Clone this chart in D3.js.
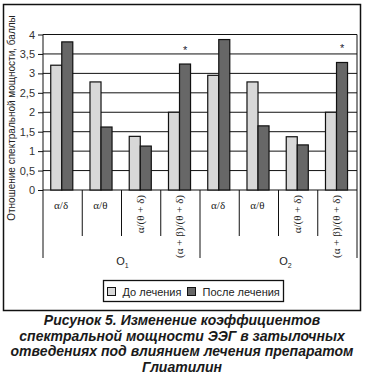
<!DOCTYPE html>
<html><head><meta charset="utf-8">
<script src="https://cdn.jsdelivr.net/npm/d3@7"></script>
<style>
html,body{margin:0;padding:0;background:#fff;}
svg{display:block;}
</style></head>
<body>
<script>
// ---- data ----
const groups = ["O1", "O2"];
const categories = ["α/δ", "α/θ", "α/(θ + δ)", "(α + β)/(θ + δ)"];
const rotated = [false, false, true, true];
const series = ["До лечения", "После лечения"];
const beforeValues = [3.21, 2.78, 1.38, 2.0, 2.95, 2.78, 1.37, 2.0];
const afterValues  = [3.81, 1.62, 1.13, 3.24, 3.87, 1.65, 1.16, 3.28];
const significant  = [false, false, false, true, false, false, false, true];
const yTicks = [0, 0.5, 1, 1.5, 2, 2.5, 3, 3.5, 4];
const yTitle = "Отношение спектральной мощности, баллы";
const caption = ["Рисунок 5. Изменение коэффициентов",
                 "спектральной мощности ЭЭГ в затылочных",
                 "отведениях под влиянием лечения препаратом",
                 "Глиатилин"];
const colors = ["#d8d8d8", "#676767"];

const W = 365, H = 379;
const svg = d3.select("body").append("svg").attr("width", W).attr("height", H);
const sans = "'Liberation Sans', Arial, sans-serif";
const serif = "'Liberation Serif', 'Times New Roman', serif";

// outer frame
svg.append("rect").attr("x", 3.5).attr("y", 4.5).attr("width", 357).attr("height", 306)
  .attr("fill", "none").attr("stroke", "#111").attr("stroke-width", 1.5);

const left = 43, right = 357, yTop = 34.5, yBot = 190;
const rows = [];
groups.forEach((g, gi) => categories.forEach((c, ci) => rows.push({g, gi, c, ci, i: gi * categories.length + ci})));

const x0 = d3.scaleBand().domain(rows.map(r => r.i)).range([left, right]).padding(0);
const x1 = d3.scaleBand().domain(series).range([0, x0.bandwidth()]).paddingInner(0).paddingOuter(0.78).align(0.45);
const y = d3.scaleLinear().domain([0, 4]).range([yBot, yTop]);

// gridlines + y axis
const yAxis = d3.axisLeft(y).tickValues(yTicks).tickSize(5).tickPadding(3)
  .tickFormat(d => String(d).replace(".", ","));
const ga = svg.append("g").attr("transform", `translate(${left},0)`).call(yAxis);
ga.select(".domain").remove();
ga.selectAll(".tick line").attr("stroke", "#111");
ga.selectAll(".tick text").attr("font-family", sans).attr("font-size", 11).attr("fill", "#333");
svg.append("g").selectAll("line").data(yTicks).join("line")
  .attr("x1", left).attr("x2", right).attr("y1", d => y(d)).attr("y2", d => y(d))
  .attr("stroke", "#111").attr("stroke-width", 1);
svg.append("line").attr("x1", left).attr("x2", left).attr("y1", y(4)).attr("y2", yBot)
  .attr("stroke", "#111");
svg.append("line").attr("x1", right).attr("x2", right).attr("y1", y(4)).attr("y2", yBot)
  .attr("stroke", "#111");

// bars
const bars = svg.append("g");
rows.forEach(r => {
  [beforeValues[r.i], afterValues[r.i]].forEach((v, si) => {
    bars.append("rect")
      .attr("x", x0(r.i) + x1(series[si]))
      .attr("y", y(v))
      .attr("width", x1.bandwidth())
      .attr("height", y(0) - y(v))
      .attr("fill", colors[si]).attr("stroke", "#111").attr("stroke-width", 1.2);
  });
  if (significant[r.i]) {
    svg.append("text")
      .attr("x", x0(r.i) + x1(series[1]) + x1.bandwidth() / 2)
      .attr("y", y(afterValues[r.i]) - 10)
      .attr("text-anchor", "middle").attr("font-family", sans).attr("font-size", 11)
      .attr("fill", "#223").text("*");
  }
});

// category separators
const sep = svg.append("g").attr("stroke", "#111");
for (let k = 0; k <= rows.length; k++) {
  const xx = k < rows.length ? x0(k) : right;
  const isLong = (k % categories.length === 0);
  sep.append("line").attr("x1", xx).attr("x2", xx).attr("y1", yBot).attr("y2", isLong ? 258 : 236);
}

// category labels
rows.forEach(r => {
  const cx = x0(r.i) + x0.bandwidth() / 2 - 1.5;
  if (!rotated[r.ci]) {
    svg.append("text").attr("x", cx).attr("y", 209).attr("text-anchor", "middle")
      .attr("font-family", serif).attr("font-size", 11).attr("fill", "#222").text(r.c);
  } else {
    svg.append("text").attr("transform", `translate(${cx + 4},195) rotate(-90)`)
      .attr("text-anchor", "end").attr("font-family", serif).attr("font-size", 11)
      .attr("fill", "#222").text(r.c);
  }
});

// group labels
groups.forEach((g, gi) => {
  const first = x0(gi * categories.length), last = x0(gi * categories.length + categories.length - 1) + x0.bandwidth();
  const t = svg.append("text").attr("x", (first + last) / 2 + 1 + gi * 6).attr("y", 265)
    .attr("text-anchor", "middle").attr("font-family", sans).attr("font-size", 11).attr("fill", "#222");
  t.append("tspan").text("O");
  t.append("tspan").attr("font-size", 7).attr("dy", 3).text(String(gi + 1));
});

// y title
svg.append("text").attr("transform", `translate(15,118) rotate(-90)`)
  .attr("text-anchor", "middle").attr("font-family", sans).attr("font-size", 10)
  .attr("fill", "#222").text(yTitle);

// legend
svg.append("rect").attr("x", 103.5).attr("y", 280.5).attr("width", 180).attr("height", 21)
  .attr("fill", "#fff").attr("stroke", "#111").attr("stroke-width", 1.3);
const legX = [107.5, 187.5];
series.forEach((s, si) => {
  svg.append("rect").attr("x", legX[si]).attr("y", 287.5).attr("width", 8).attr("height", 8)
    .attr("fill", colors[si]).attr("stroke", "#111").attr("stroke-width", 1);
  svg.append("text").attr("x", legX[si] + 15).attr("y", 295.5).attr("font-family", sans)
    .attr("font-size", 11).attr("fill", "#222").text(s);
});

// caption
const capY = [325, 340.5, 356, 371.5];
caption.forEach((line, li) => {
  svg.append("text").attr("x", 182).attr("y", capY[li]).attr("text-anchor", "middle")
    .attr("font-family", sans).attr("font-size", 14).attr("font-weight", "bold")
    .attr("font-style", "italic").attr("fill", "#1a1a1a").text(line);
});
</script>
</body></html>
